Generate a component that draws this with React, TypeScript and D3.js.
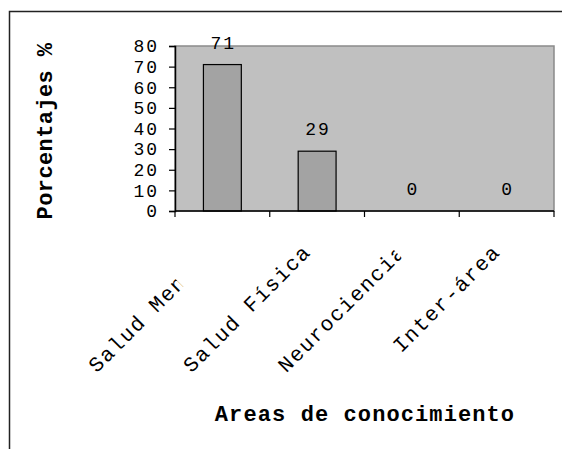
import React, { useEffect, useRef } from "react";
import * as d3 from "d3";

const categories = ["Salud Mental", "Salud Física", "Neurociencia", "Inter-área"];
const values = [71, 29, 0, 0];
const yTicks = [0, 10, 20, 30, 40, 50, 60, 70, 80];
// how much of each rotated label is cut off at its end (px)
const labelCut = [48, 0, 7, 0];

const FONT = "'Liberation Mono', 'Courier New', monospace";

export default function App() {
  const ref = useRef<SVGSVGElement>(null);

  useEffect(() => {
    const svg = d3.select(ref.current);
    svg.selectAll("*").remove();

    const width = 562;
    const height = 449;
    const plot = { left: 175, right: 554, top: 46, bottom: 211 };

    // outer frame (only top and left visible)
    svg
      .append("path")
      .attr("d", `M9.5,${height} L9.5,11.5 L${width},11.5`)
      .attr("fill", "none")
      .attr("stroke", "#222")
      .attr("stroke-width", 1.5);

    const x = d3
      .scaleBand()
      .domain(categories)
      .range([plot.left, plot.right])
      .paddingInner(0)
      .paddingOuter(0);

    const y = d3.scaleLinear().domain([0, 80]).range([plot.bottom, plot.top]);

    svg
      .append("rect")
      .attr("x", plot.left)
      .attr("y", plot.top)
      .attr("width", plot.right - plot.left)
      .attr("height", plot.bottom - plot.top)
      .attr("fill", "#c0c0c0")
      .attr("stroke", "#8a8a8a")
      .attr("stroke-width", 1.5);

    const barW = x.bandwidth() * 0.4;

    svg
      .append("g")
      .selectAll("rect")
      .data(values)
      .join("rect")
      .attr("x", (d, i) => x(categories[i])! + (x.bandwidth() - barW) / 2)
      .attr("y", (d) => y(d))
      .attr("width", barW)
      .attr("height", (d) => y(0) - y(d))
      .attr("fill", (d) => (d > 0 ? "#a3a3a3" : "none"))
      .attr("stroke", (d) => (d > 0 ? "#000" : "none"))
      .attr("stroke-width", 1.2);

    svg
      .append("g")
      .selectAll("text")
      .data(values)
      .join("text")
      .attr("x", (d, i) => x(categories[i])! + x.bandwidth() / 2 + 1)
      .attr("y", (d) => y(d) - 16)
      .attr("text-anchor", "middle")
      .attr("font-family", FONT)
      .attr("font-size", "18px")
      .attr("letter-spacing", "2px")
      .attr("fill", "#000")
      .text((d) => d);

    // y axis
    const yAxis = svg
      .append("g")
      .attr("transform", `translate(${plot.left},0)`)
      .call(d3.axisLeft(y).tickValues(yTicks).tickSize(6).tickPadding(10));
    yAxis.select(".domain").attr("stroke", "#000").attr("stroke-width", 1.5);
    yAxis.selectAll("line").attr("stroke", "#000").attr("stroke-width", 1.2);
    yAxis
      .selectAll("text")
      .attr("font-family", FONT)
      .attr("font-size", "18px")
      .attr("letter-spacing", "2px")
      .attr("fill", "#000");

    // x axis
    const xAxis = svg
      .append("g")
      .attr("transform", `translate(0,${plot.bottom})`);
    xAxis
      .append("line")
      .attr("x1", plot.left)
      .attr("x2", plot.right)
      .attr("stroke", "#000")
      .attr("stroke-width", 1.5);
    const bounds = [...categories.map((c) => x(c)!), plot.right];
    xAxis
      .selectAll("line.tick")
      .data(bounds)
      .join("line")
      .attr("class", "tick")
      .attr("x1", (d) => d)
      .attr("x2", (d) => d)
      .attr("y1", 0)
      .attr("y2", 6)
      .attr("stroke", "#000")
      .attr("stroke-width", 1.2);

    // category labels, rotated
    const defs = svg.append("defs");
    categories.forEach((c, i) => {
      defs
        .append("clipPath")
        .attr("id", `lab-clip-${i}`)
        .append("rect")
        .attr("x", -400)
        .attr("y", -40)
        .attr("width", 400 - labelCut[i])
        .attr("height", 80);
      svg
        .append("g")
        .attr(
          "transform",
          `translate(${x(c)! + x.bandwidth() / 2 - 5},${plot.bottom + 42}) rotate(-45)`
        )
        .append("text")
        .attr("clip-path", `url(#lab-clip-${i})`)
        .attr("text-anchor", "end")
        .attr("font-family", FONT)
        .attr("font-size", "21px")
        .attr("letter-spacing", "1.6px")
        .attr("fill", "#000")
        .text(c);
    });

    // axis titles
    svg
      .append("text")
      .attr("transform", `translate(52,131) rotate(-90)`)
      .attr("text-anchor", "middle")
      .attr("font-family", FONT)
      .attr("font-weight", "bold")
      .attr("font-size", "22px")
      .attr("letter-spacing", "0.4px")
      .attr("fill", "#000")
      .text("Porcentajes %");

    svg
      .append("text")
      .attr("x", 365)
      .attr("y", 421)
      .attr("text-anchor", "middle")
      .attr("font-family", FONT)
      .attr("font-weight", "bold")
      .attr("font-size", "22px")
      .attr("letter-spacing", "1.1px")
      .attr("fill", "#000")
      .text("Areas de conocimiento");
  }, []);

  return (
    <svg
      ref={ref}
      width={562}
      height={449}
      style={{ position: "absolute", left: 0, top: 0, background: "#fff" }}
    ></svg>
  );
}
